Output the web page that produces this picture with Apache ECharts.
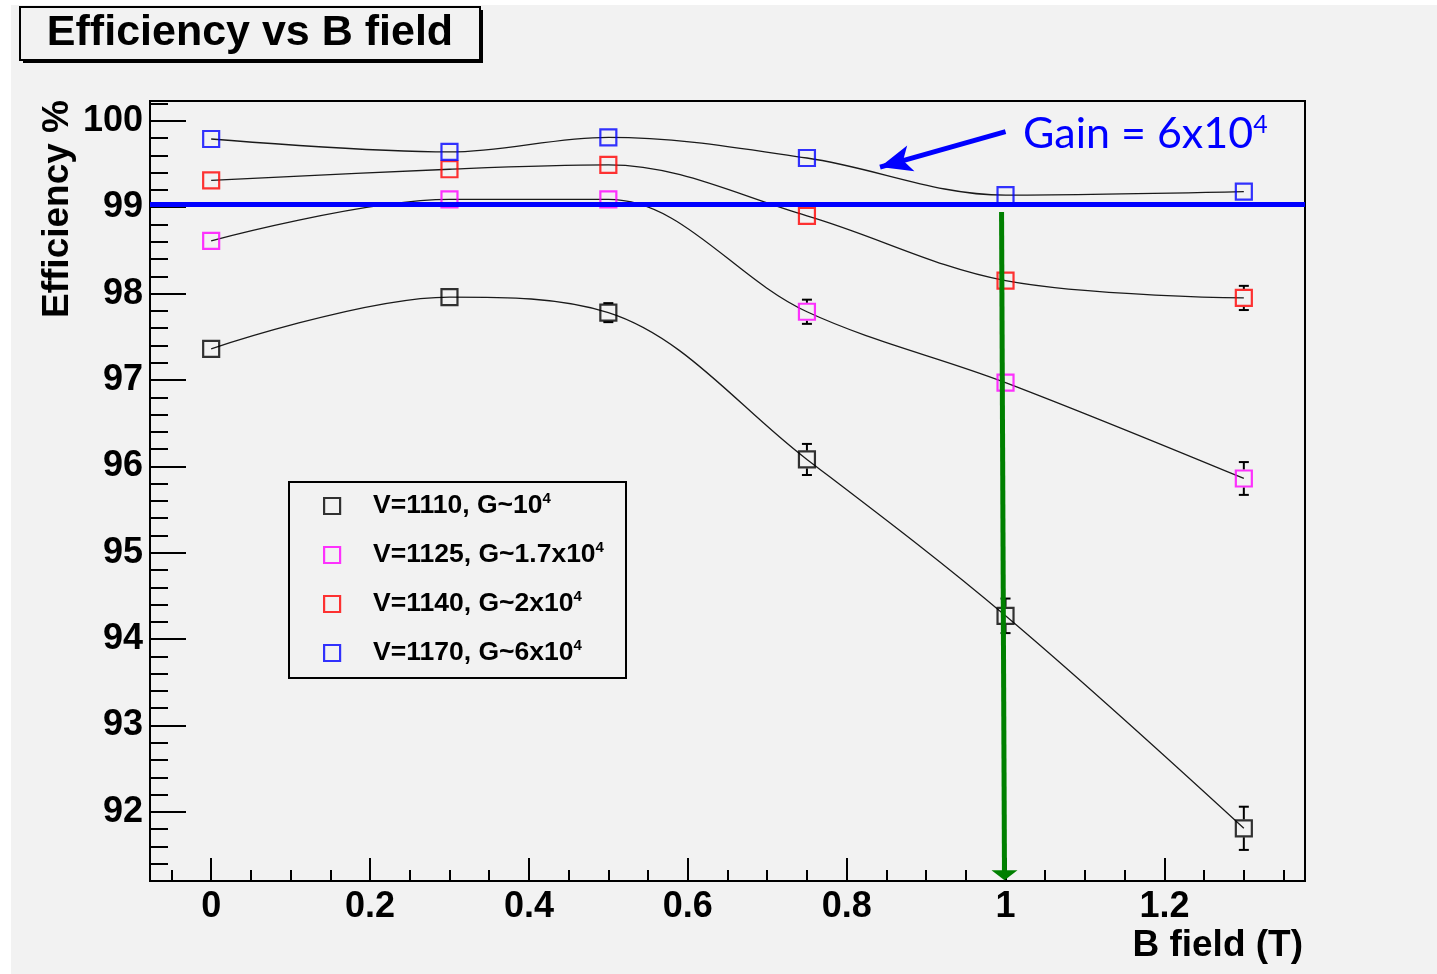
<!DOCTYPE html>
<html>
<head>
<meta charset="utf-8">
<title>Efficiency vs B field</title>
<script src="https://cdn.jsdelivr.net/npm/echarts@6/dist/echarts.min.js"></script>
<style>
  html, body { margin: 0; padding: 0; background: #ffffff; }
  #chart { width: 1437px; height: 974px; }
</style>
</head>
<body>
<div id="chart"></div>
<script>
// Magnetic field values (T) at which each HV setting was measured
const bField = [0, 0.3, 0.5, 0.75, 1.0, 1.3];

// Efficiency (%) and its uncertainty for each high-voltage / gain setting
const eff1110 = [97.36, 97.96, 97.78, 96.08, 94.27, 91.81];
const err1110 = [0.03, 0.03, 0.11, 0.18, 0.20, 0.25];
const eff1125 = [98.61, 99.09, 99.09, 97.79, 96.97, 95.86];
const err1125 = [0.03, 0.03, 0.03, 0.14, 0.06, 0.19];
const eff1140 = [99.31, 99.44, 99.49, 98.90, 98.15, 97.95];
const err1140 = [0.02, 0.02, 0.02, 0.05, 0.06, 0.14];
const eff1170 = [99.79, 99.64, 99.81, 99.57, 99.14, 99.18];
const err1170 = [0.01, 0.01, 0.01, 0.02, 0.03, 0.03];

// Legend entries (main text + superscript exponent)
const seriesNames = ['V=1110', 'V=1125', 'V=1140', 'V=1170'];
const legendMain = ['V=1110, G~10', 'V=1125, G~1.7x10', 'V=1140, G~2x10', 'V=1170, G~6x10'];
const legendSup = ['4', '4', '4', '4'];
const markerColors = ['#000000', '#ff00ff', '#ff0000', '#0000ff'];

// Axis tick labels
const xTicks = [0, 0.2, 0.4, 0.6, 0.8, 1, 1.2];
const yTicks = [92, 93, 94, 95, 96, 97, 98, 99, 100];

// Annotations: 99% efficiency level, arrow to the 6x10^4 curve, arrow down at 1 T
const gainLevel = 99.027;
const gainArrow = [[1.0, 99.876], [0.842, 99.465]];
const fieldArrow = [[0.995, 98.946], [0.9987, 91.267]];

const xRange = [-0.077, 1.377];
const yRange = [91.2, 100.23];

const effData = [eff1110, eff1125, eff1140, eff1170];
const errData = [err1110, err1125, err1140, err1170];

// Minor tick positions between the labelled ticks
const xMinor = [];
for (let k = -1; k <= 27; k++) {
  const v = +(k * 0.05).toFixed(2);
  if (k % 4 !== 0 && v > xRange[0] && v < xRange[1]) xMinor.push(v);
}
const yMinor = [];
for (let k = 457; k <= 501; k++) {
  const v = +(k * 0.2).toFixed(1);
  if (k % 5 !== 0 && v > yRange[0] && v < yRange[1]) yMinor.push(v);
}

const FONT = '"Liberation Sans", Arial, Helvetica, sans-serif';
const MARKER = 16;

function errorBars(params, api) {
  const x = api.value(0), y = api.value(1), e = api.value(2);
  const c = api.coord([x, y]);
  const top = api.coord([x, y + e])[1];
  const bot = api.coord([x, y - e])[1];
  const half = (MARKER + 2) / 2;
  const cap = 5;
  const style = { stroke: '#000', lineWidth: 2 };
  const children = [];
  if (c[1] - top > half) {
    children.push({ type: 'line', shape: { x1: c[0], y1: top, x2: c[0], y2: c[1] - half }, style });
    children.push({ type: 'line', shape: { x1: c[0] - cap, y1: top, x2: c[0] + cap, y2: top }, style });
  }
  if (bot - c[1] > half) {
    children.push({ type: 'line', shape: { x1: c[0], y1: c[1] + half, x2: c[0], y2: bot }, style });
    children.push({ type: 'line', shape: { x1: c[0] - cap, y1: bot, x2: c[0] + cap, y2: bot }, style });
  }
  return { type: 'group', children };
}

const series = [];
effData.forEach((eff, s) => {
  const pts = bField.map((b, i) => [b, eff[i]]);
  const curve = {
    type: 'line',
    name: seriesNames[s] + ' curve',
    data: pts,
    smooth: 0.35,
    showSymbol: false,
    silent: true,
    z: 3,
    lineStyle: { color: '#1a1a1a', width: 1.3 }
  };
  if (s === 3) {
    curve.markLine = {
      silent: true,
      symbol: ['none', 'none'],
      label: { show: false },
      lineStyle: { color: '#0000ff', width: 5, type: 'solid' },
      data: [{ yAxis: gainLevel }],
      z: 6
    };
  }
  if (s === 0) {
    curve.markLine = {
      silent: true,
      symbol: ['none', 'none'],
      label: { show: false },
      z: 7,
      data: [
        [
          { coord: fieldArrow[0], symbol: 'none', lineStyle: { color: '#008000', width: 5, type: 'solid' } },
          { coord: fieldArrow[1], symbol: 'triangle', symbolSize: [26, 10] }
        ],
        [
          { coord: gainArrow[0], symbol: 'none', lineStyle: { color: '#0000ff', width: 5, type: 'solid' } },
          { coord: gainArrow[1], symbol: 'arrow', symbolSize: [20, 32] }
        ]
      ]
    };
  }
  series.push(curve);
  series.push({
    type: 'custom',
    name: seriesNames[s] + ' errors',
    data: bField.map((b, i) => [b, eff[i], errData[s][i]]),
    encode: { x: 0, y: 1 },
    renderItem: errorBars,
    silent: true,
    z: 4
  });
  series.push({
    type: 'scatter',
    name: seriesNames[s],
    data: pts,
    symbol: 'rect',
    symbolSize: MARKER,
    silent: true,
    z: 5,
    itemStyle: { color: 'rgba(0,0,0,0)', borderColor: markerColors[s], borderWidth: 2.2 }
  });
});

const tickLabelStyle = { color: '#000', fontFamily: FONT, fontWeight: 'bold', fontSize: 36 };

const option = {
  animation: false,
  backgroundColor: '#f2f2f2',
  grid: {
    left: 150, top: 101, width: 1155, height: 780,
    show: true, borderColor: '#000', borderWidth: 2, backgroundColor: 'transparent'
  },
  xAxis: [
    {
      type: 'value', min: xRange[0], max: xRange[1],
      axisLine: { show: true, onZero: false, lineStyle: { color: '#000', width: 2 } },
      axisTick: { show: true, inside: true, length: 23, customValues: xTicks, lineStyle: { color: '#000', width: 2 } },
      axisLabel: Object.assign({ show: true, margin: 8, customValues: xTicks }, tickLabelStyle),
      splitLine: { show: false }
    },
    {
      type: 'value', min: xRange[0], max: xRange[1], position: 'bottom',
      axisLine: { show: false, onZero: false },
      axisTick: { show: true, inside: true, length: 11, customValues: xMinor, lineStyle: { color: '#000', width: 2 } },
      axisLabel: { show: false },
      splitLine: { show: false }
    }
  ],
  yAxis: [
    {
      type: 'value', min: yRange[0], max: yRange[1],
      axisLine: { show: true, onZero: false, lineStyle: { color: '#000', width: 2 } },
      axisTick: { show: true, inside: true, length: 36, customValues: yTicks, lineStyle: { color: '#000', width: 2 } },
      axisLabel: Object.assign({ show: true, margin: 7, customValues: yTicks }, tickLabelStyle),
      splitLine: { show: false }
    },
    {
      type: 'value', min: yRange[0], max: yRange[1], position: 'left',
      axisLine: { show: false, onZero: false },
      axisTick: { show: true, inside: true, length: 18, customValues: yMinor, lineStyle: { color: '#000', width: 2 } },
      axisLabel: { show: false },
      splitLine: { show: false }
    }
  ],
  legend: {
    orient: 'vertical',
    left: 323,
    top: 491,
    padding: 0,
    itemGap: 20.5,
    itemWidth: MARKER,
    itemHeight: MARKER,
    selectedMode: false,
    data: seriesNames.map((n, s) => ({
      name: n,
      icon: 'rect',
      itemStyle: { color: 'rgba(0,0,0,0)', borderColor: markerColors[s], borderWidth: 2.2 }
    })),
    formatter: (name) => {
      const s = seriesNames.indexOf(name);
      return '{m|' + legendMain[s] + '}{s|' + legendSup[s] + '}';
    },
    textStyle: {
      padding: [0, 0, 0, 28],
      rich: {
        m: { fontFamily: FONT, fontWeight: 'bold', fontSize: 26.5, lineHeight: 30, color: '#000' },
        s: { fontFamily: FONT, fontWeight: 'bold', fontSize: 15, lineHeight: 19, verticalAlign: 'top', color: '#000' }
      }
    }
  },
  graphic: [
    // white page margin strips
    { type: 'rect', shape: { x: 0, y: 0, width: 11, height: 974 }, style: { fill: '#ffffff' }, silent: true },
    { type: 'rect', shape: { x: 0, y: 0, width: 1437, height: 5 }, style: { fill: '#ffffff' }, silent: true },
    // title box with drop shadow
    { type: 'rect', shape: { x: 23, y: 10, width: 460, height: 53 }, style: { fill: '#000' }, silent: true },
    { type: 'rect', shape: { x: 20, y: 7, width: 460, height: 53 }, style: { fill: '#f2f2f2', stroke: '#000', lineWidth: 2 }, silent: true },
    {
      type: 'text', x: 250, y: 33, silent: true,
      style: { text: 'Efficiency vs B field', fill: '#000', font: 'bold 43px ' + FONT, align: 'center', verticalAlign: 'middle' }
    },
    // legend frame
    { type: 'rect', shape: { x: 289, y: 482, width: 337, height: 196 }, style: { fill: 'none', stroke: '#000', lineWidth: 2 }, silent: true, z: 10 },
    // axis titles
    {
      type: 'text', x: 58, y: 100, rotation: Math.PI / 2, silent: true,
      style: { text: 'Efficiency %', fill: '#000', font: 'bold 37px ' + FONT, align: 'right', verticalAlign: 'middle' }
    },
    {
      type: 'text', x: 1303, y: 946, silent: true,
      style: { text: 'B field (T)', fill: '#000', font: 'bold 37px ' + FONT, align: 'right', verticalAlign: 'middle' }
    },
    // gain annotation
    {
      type: 'text', x: 1023, y: 134.5, silent: true, z: 10,
      style: {
        text: '{g|Gain = 6x10}{s|4}',
        align: 'left', verticalAlign: 'middle',
        rich: {
          g: { fontFamily: 'Lato, "Open Sans", sans-serif', fontSize: 43, lineHeight: 44, fill: '#0000ff' },
          s: { fontFamily: 'Lato, "Open Sans", sans-serif', fontSize: 25, lineHeight: 24, verticalAlign: 'top', fill: '#0000ff' }
        }
      }
    }
  ],
  series
};

const chart = echarts.init(document.getElementById('chart'), null, { renderer: 'canvas' });
chart.setOption(option);
</script>
</body>
</html>
